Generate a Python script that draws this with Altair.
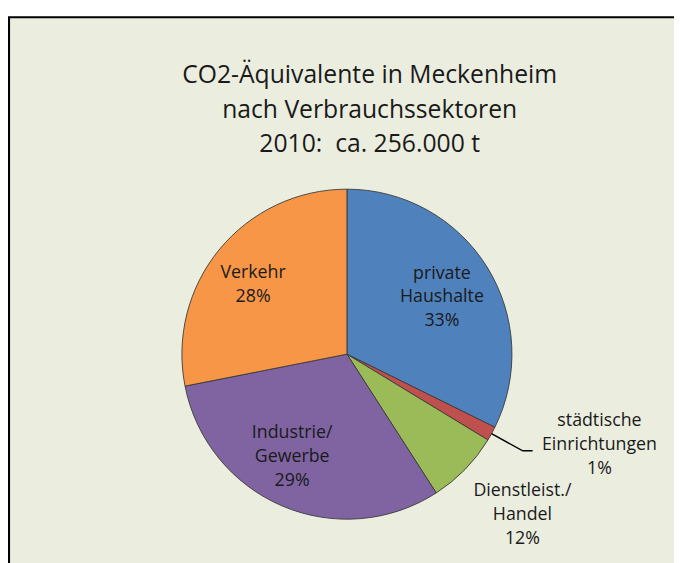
import math
import altair as alt
import pandas as pd

# ---- data ----
sectors = ["private Haushalte", "städtische Einrichtungen", "Dienstleist./Handel",
           "Industrie/Gewerbe", "Verkehr"]
shares = [32.3, 1.4, 7.2, 31.0, 28.1]          # slice sizes as drawn
pct_labels = ["33%", "1%", "12%", "29%", "28%"]  # percentages as printed
label_lines = [["private", "Haushalte"], ["städtische", "Einrichtungen"],
               ["Dienstleist./", "Handel"], ["Industrie/", "Gewerbe"], ["Verkehr"]]
colors = ["#4F81BD", "#C0504D", "#9BBB59", "#8064A2", "#F79646"]
title_lines = ["CO2-Äquivalente in Meckenheim", "nach Verbrauchssektoren",
               "2010:\u00a0 ca. 256.000 t"]

# ---- layout / style ----
W, H = 674, 555
CX, CY, R = 343, 347, 167
BG = "#EBEEDF"
FONT = "Open Sans"
TXT = "#1a1a1a"
LH = 24
label_radius = [112, 271.6, 241, 118, 118]      # px from centre
label_angle_shift = [1.0, -9.0, -1.75, 5.0, -3.0]  # degrees from slice mid

total = sum(shares)
starts, ends, acc = [], [], 0.0
for s in shares:
    starts.append(acc)
    acc += s
    ends.append(acc)
mids = [(a + b) / 2 for a, b in zip(starts, ends)]

full_labels = ["\n".join(l + [p]) for l, p in zip(label_lines, pct_labels)]
lx, ly = [], []
for m, r, sh, l in zip(mids, label_radius, label_angle_shift, label_lines):
    a = 2 * math.pi * m / total + math.radians(sh)
    n = len(l) + 1
    lx.append(CX + r * math.sin(a))
    ly.append(CY - r * math.cos(a) - (n - 1) * LH / 2)

df = pd.DataFrame({
    "sector": sectors,
    "share": shares,
    "start": starts,
    "end": ends,
    "label": full_labels,
    "lx": lx,
    "ly": ly,
})

theta_scale = alt.Scale(domain=[0, total], range=[0, 2 * math.pi])

frame = alt.Chart(pd.DataFrame({"a": [0]})).mark_rect(
    fill=BG, stroke="black", strokeWidth=2.2
).encode(x=alt.value(1), y=alt.value(6), x2=alt.value(1000), y2=alt.value(1000))

pie = alt.Chart(df).mark_arc(outerRadius=R, stroke="#3a3a3a", strokeWidth=0.9).encode(
    x=alt.value(CX), y=alt.value(CY),
    theta=alt.Theta("start:Q", scale=theta_scale, stack=None),
    theta2="end:Q",
    color=alt.Color("sector:N", scale=alt.Scale(domain=sectors, range=colors), legend=None),
)

labels = alt.Chart(df).mark_text(lineBreak="\n", font=FONT, fontSize=18, lineHeight=LH,
                                 align="center", baseline="middle", color=TXT).encode(
    x=alt.X("lx:Q", scale=None), y=alt.Y("ly:Q", scale=None), text="label:N")

# leader line for the small slice, derived from its mid angle
mid = 2 * math.pi * mids[1] / total
p0 = (CX + R * math.sin(mid), CY - R * math.cos(mid))
p1 = (CX + 203 * math.sin(mid), CY - 203 * math.cos(mid))
p2 = (p1[0] + 10, p1[1])
lead_df = pd.DataFrame({"px": [p0[0], p1[0], p2[0]], "py": [p0[1], p1[1], p2[1]], "k": [0, 1, 2]})
leader = alt.Chart(lead_df).mark_line(color="black", strokeWidth=1.5).encode(
    x=alt.X("px:Q", scale=None), y=alt.Y("py:Q", scale=None), order="k:Q")

title = alt.Chart(pd.DataFrame({"a": [0]})).mark_text(
    font=FONT, fontSize=25, lineHeight=34.5, align="center", baseline="alphabetic", color=TXT
).encode(x=alt.value(366), y=alt.value(73), text=alt.value(title_lines))

chart = alt.layer(frame, pie, leader, labels, title).properties(
    width=W, height=H, padding=0, background="white",
    autosize=alt.AutoSizeParams(type="none"),
).configure_view(stroke=None)

chart.save("out.html", embed_options={"renderer": "svg", "actions": False})
